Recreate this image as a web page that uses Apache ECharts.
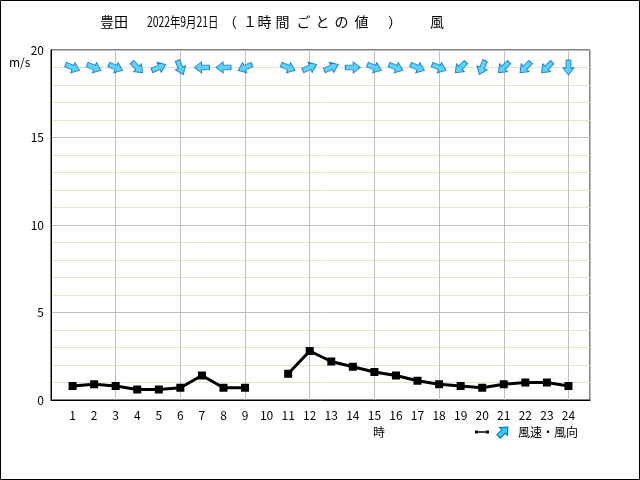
<!DOCTYPE html>
<html><head><meta charset="utf-8">
<script src="https://cdn.jsdelivr.net/npm/echarts@6/dist/echarts.min.js"></script>
<style>html,body{margin:0;padding:0;background:#fff}#c{width:640px;height:480px}</style>
</head><body><div id="c"></div>
<script>
// hours 1..24
var hours = [1,2,3,4,5,6,7,8,9,10,11,12,13,14,15,16,17,18,19,20,21,22,23,24];
// wind speed (m/s), null = missing
var speeds = [0.8,0.9,0.8,0.6,0.6,0.7,1.4,0.7,0.7,null,1.5,2.8,2.2,1.9,1.6,1.4,1.1,0.9,0.8,0.7,0.9,1.0,1.0,0.8];
// arrow direction (compass degrees the arrow points to), null = missing
var arrowDirs = [112.5,112.5,112.5,135,67.5,157.5,270,270,247.5,null,112.5,67.5,67.5,90,112.5,112.5,112.5,112.5,225,202.5,225,225,225,180];
var yTicks = [0,5,10,15,20];
var arrowRowValue = 19;

var FONT = '"Noto Sans CJK JP", "DejaVu Sans", sans-serif';
var ARROW = 'path://M0,-10 L8,-1 L3.5,-1 L3.5,9 L-3.5,9 L-3.5,-1 L-8,-1 Z';
var ARROW_PTS = [[0,-10],[8,-1],[3.5,-1],[3.5,9],[-3.5,9],[-3.5,-1],[-8,-1]];

var chart = echarts.init(document.getElementById('c'), null, {renderer:'canvas'});

var lineData = hours.map(function(h,i){ return [h, speeds[i]]; });
var arrowData = [];
hours.forEach(function(h,i){
  if (arrowDirs[i] != null) arrowData.push({value:[h, arrowRowValue], symbolRotate: -arrowDirs[i]});
});

function t(txt, x, y, size, extra){
  var s = {text:txt, font:size+'px '+FONT, fill:'#000', textVerticalAlign:'middle'};
  var o = {type:'text', x:x, y:y, style:s};
  if (extra) for (var k in extra) { if (k==='align') s.textAlign = extra[k]; else o[k] = extra[k]; }
  return o;
}

// title pieces laid out to follow the reference spacing
var titleChars = ['１','時','間','ご','と','の','値'];
var graphics = [
  {type:'rect', shape:{x:0.5,y:0.5,width:639,height:479}, style:{fill:'none', stroke:'#000', lineWidth:1}, silent:true},
  t('豊田', 100, 22, 14),
  t('2022年9月21日', 147, 22, 14, {scaleX:0.74}),
  t('（', 230, 22, 14, {align:'center'}),
  t('）', 395, 22, 14, {align:'center'}),
  t('風', 430, 22, 14),
  t('m/s', 9, 62, 12),
  t('時', 373, 432, 12),
  {type:'line', shape:{x1:476,y1:432,x2:488,y2:432}, style:{stroke:'#000', lineWidth:1.5}},
  {type:'rect', shape:{x:475,y:430.5,width:3,height:3}, style:{fill:'#000'}},
  {type:'rect', shape:{x:486,y:430.5,width:3,height:3}, style:{fill:'#000'}},
  {type:'polygon', shape:{points:ARROW_PTS}, x:503, y:432, scaleX:0.7, scaleY:0.7, rotation:-Math.PI/4,
    style:{fill:'#33ccff', stroke:'#0066cc', lineWidth:1.4}},
  t('風速・風向', 518, 432, 12)
];
var charCenters = [250, 264.5, 282.5, 303.5, 322.5, 341.5, 361.5];
titleChars.forEach(function(c,i){ graphics.push(t(c, charCenters[i], 22, 14, {align:'center'})); });

chart.setOption({
  backgroundColor:'#fff',
  animation:false,
  grid:{left:51, right:50, top:50, bottom:80, show:true, borderColor:'#000', borderWidth:1, backgroundColor:'transparent'},
  xAxis:[{
    type:'value', min:0, max:25, interval:1,
    axisLine:{show:true, lineStyle:{color:'#000'}}, axisTick:{show:false},
    splitLine:{show:false},
    axisLabel:{color:'#000', fontFamily:FONT, fontSize:12, margin:9,
      formatter:function(v){ return hours.indexOf(v) >= 0 ? String(v) : ''; }}
  },{
    type:'value', min:0, max:25, interval:3, position:'bottom',
    axisLine:{show:false}, axisTick:{show:false}, axisLabel:{show:false},
    splitLine:{show:true, lineStyle:{color:'#c0c0c0', width:1}}
  }],
  yAxis:{
    type:'value', min:0, max:20, interval:5,
    axisLine:{show:true, lineStyle:{color:'#000'}}, axisTick:{show:false},
    axisLabel:{color:'#000', fontFamily:FONT, fontSize:12, margin:7,
      formatter:function(v){ return yTicks.indexOf(v) >= 0 ? String(v) : ''; }},
    splitLine:{show:true, lineStyle:{color:'#c0c0c0', width:1}},
    minorTick:{show:false, splitNumber:5},
    minorSplitLine:{show:true, lineStyle:{color:'#e8e2c8', width:1}}
  },
  series:[{
    type:'line', xAxisIndex:0, data:lineData, connectNulls:false,
    lineStyle:{color:'#000', width:3}, itemStyle:{color:'#000'},
    symbol:'rect', symbolSize:8, showSymbol:true, z:5
  },{
    type:'scatter', xAxisIndex:0, data:arrowData,
    symbol:ARROW, symbolSize:[13,15], symbolKeepAspect:true,
    itemStyle:{color:'#33ccff', borderColor:'#0066cc', borderWidth:1}, z:6
  }],
  graphic:graphics
});
</script></body></html>
